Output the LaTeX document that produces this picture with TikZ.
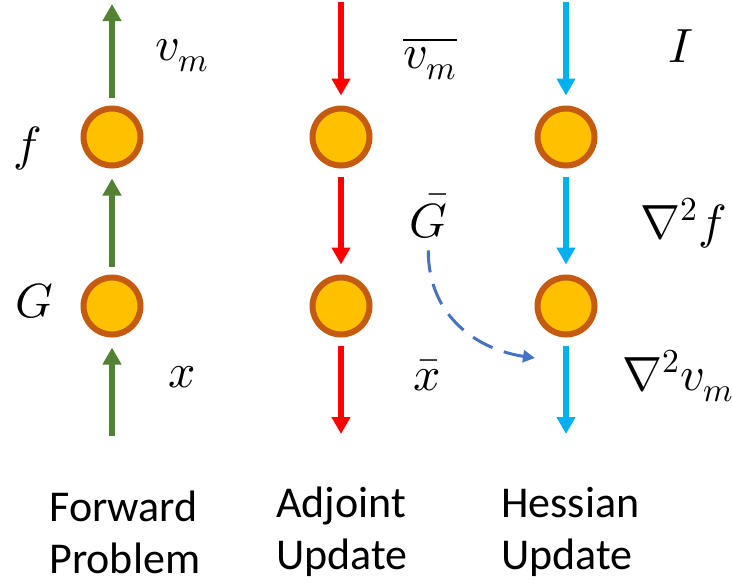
\documentclass[tikz,border=0pt]{standalone}
\usepackage{fontspec}
\usepackage{unicode-math}
\setmainfont{Carlito}
\setmathfont{Latin Modern Math}
\usetikzlibrary{arrows.meta}

\definecolor{fwdgreen}{HTML}{548235}
\definecolor{adjred}{HTML}{FF0000}
\definecolor{hesblue}{HTML}{00B0F0}
\definecolor{nodefill}{HTML}{FFC000}
\definecolor{nodeedge}{HTML}{C55A11}
\definecolor{linkblue}{HTML}{4472C4}

\tikzset{
  >={Triangle[length=8.5pt,width=9pt]},   % arrow tip for the flows
  op/.style={circle, fill=nodefill, draw=nodeedge, line width=3pt, minimum size=28.5pt, inner sep=0pt},
  flow/.style={->, line width=3pt, shorten <=4pt, shorten >=5pt},
  lab/.style={anchor=base west, inner sep=0pt, font=\fontsize{24}{28}\selectfont},
  title/.style={anchor=west, inner sep=0pt, align=left, font=\fontsize{22}{26}\selectfont}
}

\begin{document}
\begin{tikzpicture}[x=0.5pt,y=-0.5pt]
	\useasboundingbox (0,0) rectangle (732,586);
	% nodes
	\foreach \name/\xpos in {g/112, r/341, b/566}{
		\node[op] (\name1) at (\xpos,137) {};
		\node[op] (\name2) at (\xpos,306) {};
		\coordinate (\name top) at (\xpos,-6);
		\coordinate (\name bot) at (\xpos,444);
	}

	% forward problem
	\draw[flow,fwdgreen] (gbot) -- (g2);
	\draw[flow,fwdgreen] (g2) -- (g1);
	\draw[flow,fwdgreen] (g1) -- (gtop);
	% adjoint update
	\draw[flow,adjred] (rtop) -- (r1);
	\draw[flow,adjred] (r1) -- (r2);
	\draw[flow,adjred] (r2) -- (rbot);
	% hessian update
	\draw[flow,hesblue] (btop) -- (b1);
	\draw[flow,hesblue] (b1) -- (b2);
	\draw[flow,hesblue] (b2) -- (bbot);

	% labels
	\node[lab] (vm) at (155,60) {$v_m$};
	\node[lab] (f) at (13,160) {$f$};
	\node[lab] (G) at (15,317) {$G$};
	\node[lab] (x) at (168,387) {$x$};
	\node[lab] (vmbar) at (403,68) {$\overline{v_m}$};
	\node[lab] (Gbar) at (409,237) {$\bar{G}$};
	\node[lab] (xbar) at (413,390) {$\bar{x}$};
	\node[lab] (I) at (668,62) {$I$};
	\node[lab] (hf) at (640,238) {$\nabla^2 f$};
	\node[lab] (hvm) at (622,390) {$\nabla^2 v_m$};

	% G bar feeds the hessian
	\coordinate (linkend) at (535,358);
	\draw[linkblue, line width=1.5pt, dash pattern=on 11pt off 6pt, shorten <=6pt,
		-{Triangle[length=6pt,width=6pt]}]
		(Gbar.south) .. controls +(0,80) and +(-55,-8) .. (linkend);

	% titles
	\node[title] (fwd) at (49,532) {Forward\\Problem};
	\node[title] (adj) at (276,532) {Adjoint\\Update};
	\node[title] (hes) at (501,532) {Hessian\\Update};
\end{tikzpicture}
\end{document}
